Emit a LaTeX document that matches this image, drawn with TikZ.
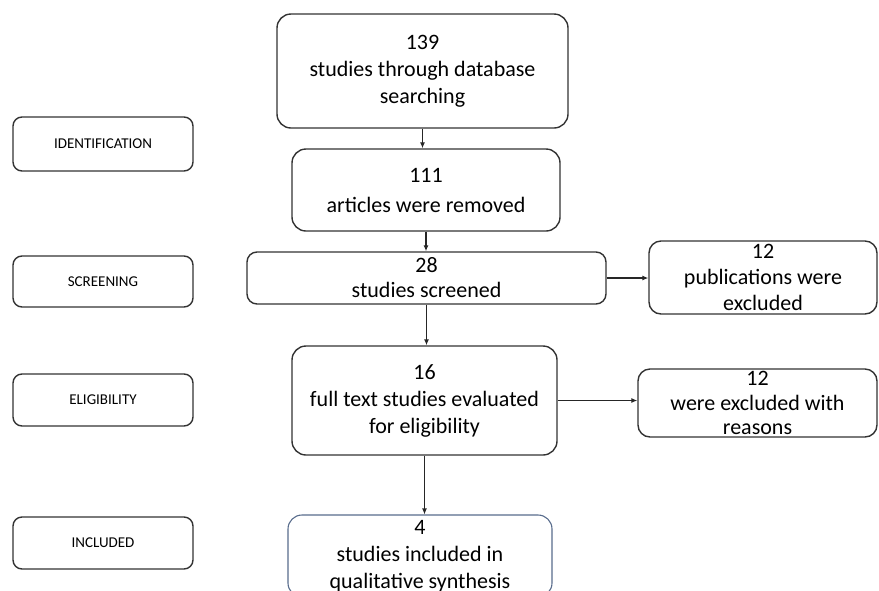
\documentclass[tikz,border=0pt]{standalone}
\usepackage{fontspec}
\setmainfont{Carlito}
\usetikzlibrary{arrows.meta}
\definecolor{slateblue}{RGB}{88,108,140}
\begin{document}
\begin{tikzpicture}[x=1pt,y=-1pt,
  bigbox/.style={draw=black!80, line width=1.4pt, rounded corners=14pt, inner sep=0pt, align=center, font=\fontsize{22}{27}\selectfont},
  stagebox/.style={draw=black!80, line width=1.4pt, rounded corners=9pt, inner sep=0pt, minimum width=180pt, align=center, font=\fontsize{15}{17}\selectfont},
  arr/.style={line width=1.1pt, draw=black!85, -{Latex[length=6pt,width=5pt]}}]
\useasboundingbox (0,0) rectangle (879,590);
% stage labels
\node[stagebox, minimum height=54pt] (ident) at (103,144) {IDENTIFICATION};
\node[stagebox, minimum height=51pt] (screen) at (103,281.5) {SCREENING};
\node[stagebox, minimum height=52pt] (elig) at (103,400) {ELIGIBILITY};
\node[stagebox, minimum height=52pt] (incl) at (103,543) {INCLUDED};
% main flow
\node[bigbox, minimum width=291pt, minimum height=114pt] (b1) at (422.5,71) {139\\studies through database\\searching};
\node[bigbox, minimum width=268pt, minimum height=82pt, font=\fontsize{22}{30}\selectfont] (b2) at (426,190) {111\\articles were removed};
\node[bigbox, minimum width=359pt, minimum height=52pt, rounded corners=10pt, font=\fontsize{22}{25}\selectfont] (b3) at (426.5,278) {28\\studies screened};
\node[bigbox, minimum width=228pt, minimum height=73pt, rounded corners=12pt, font=\fontsize{22}{26}\selectfont] (e1) at (763,277.5) {12\\publications were\\excluded};
\node[bigbox, minimum width=265pt, minimum height=109pt] (b4) at (424.5,400.5) {16\\full text studies evaluated\\for eligibility};
\node[bigbox, minimum width=239pt, minimum height=68pt, rounded corners=12pt, font=\fontsize{22}{24.5}\selectfont, text depth=0pt] (e2) at (757.5,403) {12\\were excluded with\\reasons};
\node[bigbox, draw=slateblue, line width=1.1pt, minimum width=264pt, minimum height=82pt] (b5) at (420,556) {4\\studies included in\\qualitative synthesis};
% connectors
\draw[arr] (b1.south) -- (b1.south |- b2.north);
\draw[arr] (b2.south) -- (b2.south |- b3.north);
\draw[arr] (b3.east) -- (b3.east -| e1.west);
\draw[arr] (b3.south) -- (b3.south |- b4.north);
\draw[arr] (b4.east) -- (b4.east -| e2.west);
\draw[arr] (b4.south) -- (b4.south |- b5.north);
\end{tikzpicture}
\end{document}
